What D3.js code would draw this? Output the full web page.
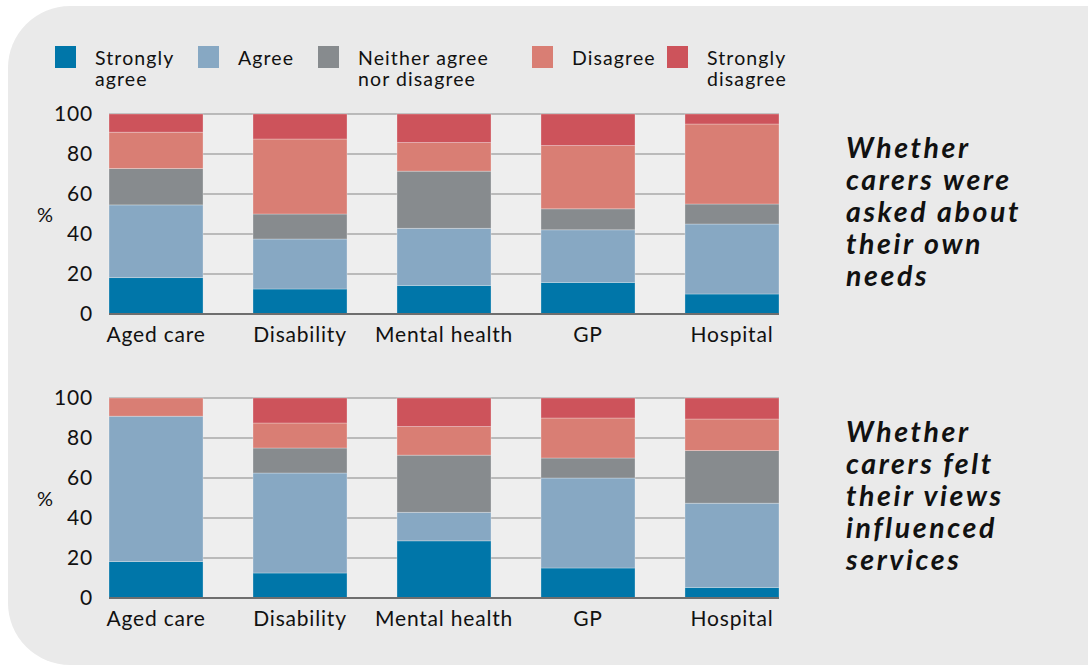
<!DOCTYPE html>
<html lang="en">
<head>
    <meta charset="UTF-8">
    <title>Carers survey stacked bars</title>
    <script src="https://d3js.org/d3.v7.min.js"></script>
    <style>
        body { margin: 0; background: #fff; font-family: Lato, "Open Sans", sans-serif; }
        svg { display: block; }
        .tick text { font-size: 21px; fill: #111; letter-spacing: 0.8px; }
    </style>
</head>
<body>
<svg width="1088" height="667"></svg>
<script>
const categories = ["Aged care", "Disability", "Mental health", "GP", "Hospital"];
const responses = ["Strongly agree", "Agree", "Neither agree nor disagree", "Disagree", "Strongly disagree"];
const legendLines = [["Strongly", "agree"], ["Agree"], ["Neither agree", "nor disagree"], ["Disagree"], ["Strongly", "disagree"]];
const colors = ["#0076a9", "#87a8c3", "#878b8e", "#d97e74", "#cd535b"];
const yTicks = [0, 20, 40, 60, 80, 100];

// Whether carers were asked about their own needs (%)
const askedStronglyAgree = [18.2, 12.5, 14.3, 15.8, 10];
const askedAgree = [36.4, 25, 28.6, 26.3, 35];
const askedNeither = [18.2, 12.5, 28.6, 10.5, 10];
const askedDisagree = [18.2, 37.5, 14.3, 31.6, 40];
const askedStronglyDisagree = [9.1, 12.5, 14.3, 15.8, 5];

// Whether carers felt their views influenced services (%)
const viewsStronglyAgree = [18.2, 12.5, 28.6, 15, 5.3];
const viewsAgree = [72.7, 50, 14.3, 45, 42.1];
const viewsNeither = [0, 12.5, 28.6, 10, 26.3];
const viewsDisagree = [9.1, 12.5, 14.3, 20, 15.8];
const viewsStronglyDisagree = [0, 12.5, 14.3, 10, 10.5];

const svg = d3.select("svg");

// rounded grey panel
svg.append("rect")
    .attr("x", 8).attr("y", 6)
    .attr("width", 1140).attr("height", 659)
    .attr("rx", 62).attr("ry", 62)
    .attr("fill", "#eaeaea");

// legend
const legendX = [55, 198, 318, 532, 667];
const legend = svg.append("g");
responses.forEach((r, i) => {
    const g = legend.append("g").attr("transform", `translate(${legendX[i]},46)`);
    g.append("rect").attr("width", 21).attr("height", 22).attr("fill", colors[i]);
    const t = g.append("text")
        .attr("x", 40).attr("y", 19)
        .attr("font-size", 19.5).attr("letter-spacing", 1.1).attr("fill", "#111");
    legendLines[i].forEach((line, j) => {
        t.append("tspan").attr("x", 40).attr("dy", j ? 21 : 0).text(line);
    });
});

const x = d3.scaleBand().domain(categories).range([109, 779]).paddingInner(0.347).paddingOuter(0);

function drawChart(top, values, titleLines) {
    const bottom = top + 200;
    const y = d3.scaleLinear().domain([0, 100]).range([bottom, top]);
    const rows = categories.map((c, i) => {
        const row = { category: c };
        responses.forEach((r, k) => { row[r] = values[k][i]; });
        return row;
    });
    const series = d3.stack().keys(responses).offset(d3.stackOffsetExpand)(rows);

    const g = svg.append("g");
    g.append("rect")
        .attr("x", 109).attr("y", top)
        .attr("width", 670).attr("height", 200)
        .attr("fill", "#eeeeee");

    // gridlines
    g.selectAll(".grid").data(yTicks.slice(1)).join("line")
        .attr("x1", 109).attr("x2", 779)
        .attr("y1", d => y(d)).attr("y2", d => y(d))
        .attr("stroke", "#a8a8a8").attr("stroke-width", 1.5);

    g.selectAll(".layer").data(series).join("g")
        .attr("fill", (d, i) => colors[i])
        .selectAll("rect").data(d => d).join("rect")
        .attr("x", d => x(d.data.category))
        .attr("width", x.bandwidth())
        .attr("y", d => y(d[1] * 100))
        .attr("height", d => y(d[0] * 100) - y(d[1] * 100))
        .attr("stroke", "rgba(255,255,255,0.35)").attr("stroke-width", 0.8);

    // baseline
    g.append("line")
        .attr("x1", 109).attr("x2", 779)
        .attr("y1", bottom).attr("y2", bottom)
        .attr("stroke", "#6e6e6e").attr("stroke-width", 2);

    const yAxis = g.append("g")
        .attr("transform", "translate(109,0)")
        .call(d3.axisLeft(y).tickValues(yTicks).tickSize(0).tickPadding(16));
    yAxis.select(".domain").remove();
    yAxis.selectAll("text").attr("font-family", "Lato, sans-serif");

    const xAxis = g.append("g")
        .attr("transform", `translate(0,${bottom})`)
        .call(d3.axisBottom(x).tickSize(0).tickPadding(13));
    xAxis.select(".domain").remove();
    xAxis.selectAll("text").attr("font-family", "Lato, sans-serif");

    g.append("text")
        .attr("x", 45).attr("y", top + 108)
        .attr("text-anchor", "middle")
        .attr("font-size", 20).attr("fill", "#111")
        .text("%");

    const title = g.append("text")
        .attr("x", 846).attr("y", top + 44)
        .attr("font-size", 28.5).attr("font-weight", "bold")
        .attr("letter-spacing", 2.6)
        .attr("font-style", "italic").attr("fill", "#111");
    titleLines.forEach((line, j) => {
        title.append("tspan").attr("x", 846).attr("dy", j ? 32 : 0).text(line);
    });
}

drawChart(114,
    [askedStronglyAgree, askedAgree, askedNeither, askedDisagree, askedStronglyDisagree],
    ["Whether", "carers were", "asked about", "their own", "needs"]);
drawChart(398,
    [viewsStronglyAgree, viewsAgree, viewsNeither, viewsDisagree, viewsStronglyDisagree],
    ["Whether", "carers felt", "their views", "influenced", "services"]);
</script>
</body>
</html>
